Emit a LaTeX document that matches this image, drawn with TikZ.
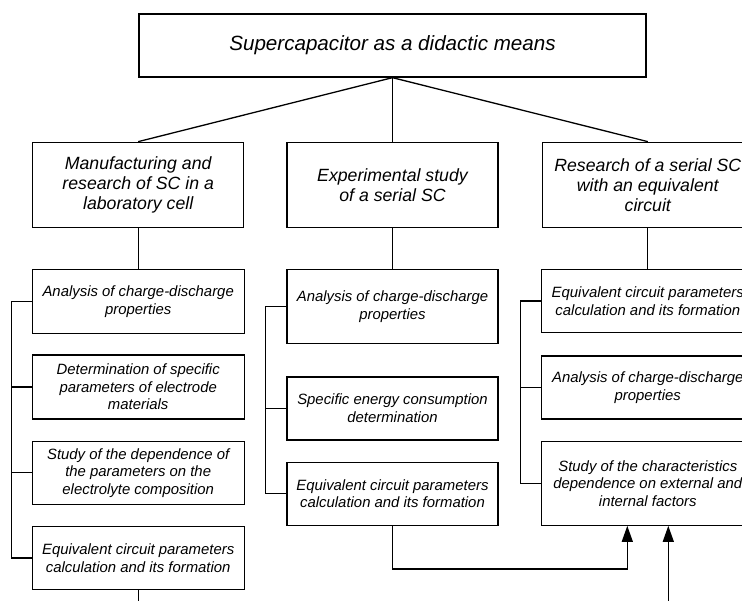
\documentclass[tikz,border=0pt]{standalone}
\usepackage{fontspec}
\setmainfont{Liberation Sans}
\usepackage{tikz}
\usetikzlibrary{positioning, arrows.meta, calc}

\begin{document}
\begin{tikzpicture}[
        x=1pt, y=-1pt,
        % Define styles for the scheme elements
        mainbox/.style={rectangle, draw, line width=1.3pt, minimum width=507pt, minimum height=63pt, font=\fontsize{20.6}{24}\selectfont\itshape},
        topic/.style={rectangle, draw, line width=1.3pt, minimum width=211pt, minimum height=85pt, align=center, font=\fontsize{17.7}{20}\selectfont\itshape},
        task/.style={rectangle, draw, line width=1.3pt, minimum width=212pt, minimum height=64pt, align=center, font=\fontsize{14.9}{17.5}\selectfont\itshape},
        link/.style={line width=1.3pt},
        feed/.style={line width=1.3pt, -{Triangle[length=16pt, width=11pt]}}
    ]
        \useasboundingbox (0,0) rectangle (742,601);
        \clip (0,0) rectangle (742,601);

        % --------------------------------------------------------
        % LEVEL 0: Root
        % --------------------------------------------------------
        \node[mainbox] (root) at (392.5,45.5) {Supercapacitor as a didactic means};

        % --------------------------------------------------------
        % LEVEL 1: Directions
        % --------------------------------------------------------
        \node[topic, below=64pt of root] (exper) {Experimental study\\of a serial SC};
        \node[topic, left=42pt of exper] (manuf) {Manufacturing and\\research of SC in a\\laboratory cell};
        \node[topic, right=43pt of exper] (serial) {Research of a serial SC\\with an equivalent\\circuit};

        \draw[link] (root.south) -- (manuf.north);
        \draw[link] (root.south) -- (exper.north);
        \draw[link] (root.south) -- (serial.north);

        % --------------------------------------------------------
        % LEVEL 2a: Laboratory cell tasks
        % --------------------------------------------------------
        \node[task, below=41pt of manuf] (cellcharge) {Analysis of charge-discharge\\properties};
        \node[task, below=20pt of cellcharge] (cellparam) {Determination of specific\\parameters of electrode\\materials};
        \node[task, minimum height=63pt, below=21pt of cellparam] (cellelyte) {Study of the dependence of\\the parameters on the\\electrolyte composition};
        \node[task, minimum height=63pt, below=21pt of cellelyte] (cellcirc) {Equivalent circuit parameters\\calculation and its formation};
        \coordinate[below=30pt of cellcirc] (cellout);

        \draw[link] (manuf) -- (cellcharge);
        \draw[link] (cellcharge.west) -- ++(-20,0) |- (cellcirc.west);
        \draw[link] (cellparam.west) -- ++(-20,0);
        \draw[link] (cellelyte.west) -- ++(-20,0);
        \draw[link] (cellcirc) -- (cellout);

        % --------------------------------------------------------
        % LEVEL 2b: Serial SC tasks
        % --------------------------------------------------------
        \node[task, minimum width=211pt, minimum height=74pt, below=41pt of exper] (excharge) {Analysis of charge-discharge\\properties};
        \node[task, minimum width=211pt, minimum height=63pt, below=32pt of excharge] (exenergy) {Specific energy consumption\\determination};
        \node[task, minimum width=211pt, minimum height=63pt, below=21pt of exenergy] (excirc) {Equivalent circuit parameters\\calculation and its formation};

        \draw[link] (exper) -- (excharge);
        \draw[link] (excharge.west) -- ++(-21,0) |- (excirc.west);
        \draw[link] (exenergy.west) -- ++(-21,0);

        % --------------------------------------------------------
        % LEVEL 2c: Equivalent circuit tasks
        % --------------------------------------------------------
        \node[task, minimum height=63pt, below=41pt of serial] (eqcirc) {Equivalent circuit parameters\\calculation and its formation};
        \node[task, minimum height=63pt, below=22pt of eqcirc] (eqcharge) {Analysis of charge-discharge\\properties};
        \node[task, minimum height=84pt, below=21pt of eqcharge] (eqfactor) {Study of the characteristics\\dependence on external and\\internal factors};
        \coordinate[below=100pt of eqfactor.south, xshift=20.5pt] (eqin);

        \draw[link] (serial) -- (eqcirc);
        \draw[link] (eqcirc.west) -- ++(-21,0) |- (eqfactor.west);
        \draw[link] (eqcharge.west) -- ++(-21,0);

        % Inputs to the last study
        \draw[feed] (excirc.south) -- ++(0,43) -| ($(eqfactor.south)+(-20.5,0)$);
        \draw[feed] (eqin) -- (eqin |- eqfactor.south);

    \end{tikzpicture}
\end{document}
